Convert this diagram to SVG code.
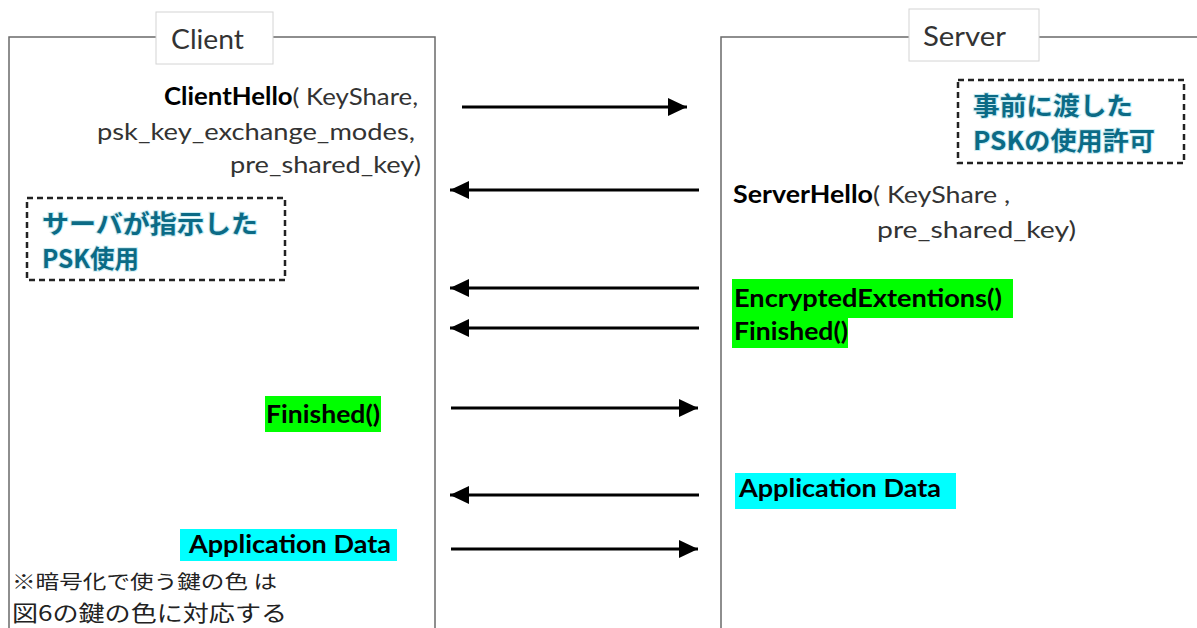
<svg xmlns="http://www.w3.org/2000/svg" width="1197" height="628" viewBox="0 0 1197 628">
<defs>
<marker id="ah" markerUnits="userSpaceOnUse" markerWidth="20" markerHeight="20" refX="19" refY="9" orient="auto">
<path d="M0,0 L19,9 L0,18 Z" fill="#000"/>
</marker>
<style>
.frame{fill:none;stroke:#6a6a6a;stroke-width:1.5}
.lbl{fill:#fff;stroke:#d4d4d4;stroke-width:1}
.t{font-family:"Lato","Open Sans","Noto Sans CJK JP",sans-serif;font-size:24px;fill:#333}
.h{font-size:27px}
.b{font-weight:bold;fill:#000}
.dash{fill:none;stroke:#222;stroke-width:2.5;stroke-dasharray:6,4}
.jp{font-family:"Noto Sans CJK JP",sans-serif;font-weight:bold;font-size:25px;fill:#0b6b86;stroke:#cdeef4;stroke-width:2;paint-order:stroke}
.note{font-family:"Noto Sans CJK JP",sans-serif;fill:#222}
.arr{stroke:#000;stroke-width:3;fill:none;marker-end:url(#ah)}
</style>
</defs>
<rect width="1197" height="628" fill="#fff"/>

<g id="client">
<rect class="frame" x="9" y="37" width="426" height="700"/>
<rect class="lbl" x="156" y="12" width="117" height="52"/>
<text class="t h" x="171" y="49" textLength="73" lengthAdjust="spacingAndGlyphs">Client</text>
</g>

<g id="server">
<rect class="frame" x="721" y="37" width="600" height="700"/>
<rect class="lbl" x="909" y="9" width="130" height="52"/>
<text class="t h" x="923" y="46" textLength="83" lengthAdjust="spacingAndGlyphs">Server</text>
</g>

<g id="clienthello">
<text class="t" x="164" y="105" textLength="254" lengthAdjust="spacingAndGlyphs"><tspan class="b">ClientHello</tspan>( KeyShare,</text>
<text class="t" x="97" y="140" textLength="318" lengthAdjust="spacingAndGlyphs">psk_key_exchange_modes,</text>
<text class="t" x="230" y="173" textLength="191" lengthAdjust="spacingAndGlyphs">pre_shared_key)</text>
</g>

<g id="psk-permit">
<rect class="dash" x="958" y="80" width="226" height="83"/>
<text class="jp" x="973" y="115" textLength="160" lengthAdjust="spacingAndGlyphs">事前に渡した</text>
<text class="jp" x="973" y="150" textLength="182" lengthAdjust="spacingAndGlyphs">PSKの使用許可</text>
</g>

<g id="serverhello">
<text class="t" x="733" y="203" textLength="277" lengthAdjust="spacingAndGlyphs"><tspan class="b">ServerHello</tspan>( KeyShare ,</text>
<text class="t" x="877" y="238" textLength="199" lengthAdjust="spacingAndGlyphs">pre_shared_key)</text>
</g>

<g id="psk-use">
<rect class="dash" x="27" y="198" width="258" height="82"/>
<text class="jp" x="42" y="233" textLength="216" lengthAdjust="spacingAndGlyphs">サーバが指示した</text>
<text class="jp" x="42" y="268" textLength="97" lengthAdjust="spacingAndGlyphs">PSK使用</text>
</g>

<g id="server-ee-finished">
<rect x="732" y="279" width="281" height="39" fill="#00ff00"/>
<rect x="732" y="318" width="116" height="30" fill="#00ff00"/>
<text class="t b" x="734" y="307" textLength="268" lengthAdjust="spacingAndGlyphs">EncryptedExtentions()</text>
<text class="t b" x="734" y="340" textLength="114" lengthAdjust="spacingAndGlyphs">Finished()</text>
</g>

<g id="client-finished">
<rect x="265" y="396" width="116" height="36" fill="#00ff00"/>
<text class="t b" x="266" y="423" textLength="114" lengthAdjust="spacingAndGlyphs">Finished()</text>
</g>

<g id="server-appdata">
<rect x="735" y="473" width="221" height="36" fill="#00ffff"/>
<text class="t b" x="739" y="497" textLength="202" lengthAdjust="spacingAndGlyphs">Application Data</text>
</g>

<g id="client-appdata">
<rect x="180" y="529" width="217" height="32" fill="#00ffff"/>
<text class="t b" x="189" y="553" textLength="202" lengthAdjust="spacingAndGlyphs">Application Data</text>
</g>

<g id="note">
<text class="note" x="12" y="589" style="font-size:19px" textLength="265" lengthAdjust="spacingAndGlyphs">※暗号化で使う鍵の色 は</text>
<text class="note" x="12" y="621" style="font-size:22px" textLength="275" lengthAdjust="spacingAndGlyphs">図6の鍵の色に対応する</text>
</g>

<g id="connectors">
<line class="arr" x1="462" y1="107" x2="687" y2="107"/>
<line class="arr" x1="699" y1="190" x2="450" y2="190"/>
<line class="arr" x1="699" y1="288" x2="450" y2="288"/>
<line class="arr" x1="699" y1="328" x2="450" y2="328"/>
<line class="arr" x1="451" y1="408" x2="698" y2="408"/>
<line class="arr" x1="699" y1="495" x2="450" y2="495"/>
<line class="arr" x1="451" y1="549" x2="698" y2="549"/>
</g>
</svg>
